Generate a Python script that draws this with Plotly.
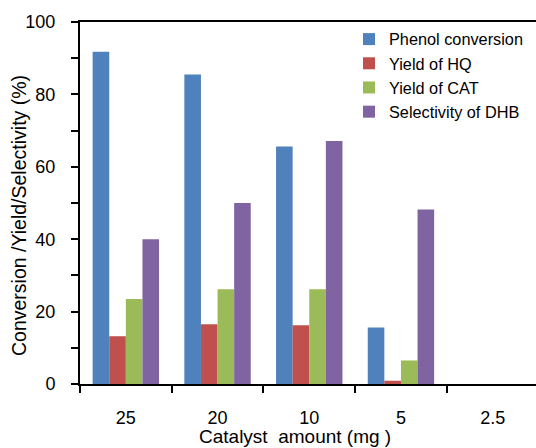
import plotly.graph_objects as go

categories = ["25", "20", "10", "5", "2.5"]
series_names = ["Phenol conversion", "Yield of HQ", "Yield of CAT", "Selectivity of DHB"]
phenol_conversion = [91.8, 85.5, 65.6, 15.6, 0]
yield_hq = [13.2, 16.5, 16.2, 0.9, 0]
yield_cat = [23.5, 26.2, 26.2, 6.5, 0]
selectivity_dhb = [40.0, 50.0, 67.1, 48.2, 0]
series_values = [phenol_conversion, yield_hq, yield_cat, selectivity_dhb]
colors = ["#4F81BD", "#C0504D", "#9BBB59", "#8064A2"]
y_tick_vals = [0, 20, 40, 60, 80, 100]
y_tick_text = ["0", "20", "40", "60", "80", "100"]

FONT = "Liberation Sans, Arial, sans-serif"

fig = go.Figure()
for name, vals, col in zip(series_names, series_values, colors):
    fig.add_trace(go.Bar(x=categories, y=vals, name=name,
                         marker=dict(color=col, line=dict(width=0))))

W, H = 536, 448
L, R, T, B = 80, 0, 22, 64
pw, ph = W - L - R, H - T - B

def px_x(p):
    return (p - L) / pw

def px_y(p):
    return 1 - (p - T) / ph

cat_w = 91.7
fig.update_layout(
    width=W, height=H,
    margin=dict(l=L, r=R, t=T, b=B, pad=0),
    paper_bgcolor="white", plot_bgcolor="white",
    font=dict(family=FONT, color="black", size=18),
    barmode="group", bargap=0.276, bargroupgap=0,
    showlegend=True,
    legend=dict(x=px_x(349), y=px_y(22), xanchor="left", yanchor="top",
                font=dict(size=16.3, family=FONT, color="black"),
                bgcolor="rgba(0,0,0,0)", borderwidth=0,
                itemclick=False, tracegroupgap=0),
    xaxis=dict(type="category", range=[-0.5, -0.5 + pw / cat_w],
               showline=True, linecolor="black", linewidth=2, mirror=True,
               ticks="outside", tickson="boundaries", ticklen=7, tickwidth=2,
               tickcolor="black", showgrid=False, zeroline=False,
               tickfont=dict(size=18), ticklabelstandoff=16),
    yaxis=dict(range=[0, 100], showline=True, linecolor="black", linewidth=2,
               ticks="outside", ticklen=7, tickwidth=2, tickcolor="black",
               tickvals=y_tick_vals, ticktext=y_tick_text,
               minor=dict(tickvals=[10, 30, 50, 70, 90], ticks="outside",
                          ticklen=7, tickwidth=2, tickcolor="black", showgrid=False),
               showgrid=False, zeroline=False, tickfont=dict(size=18),
               ticklabelstandoff=12),
    annotations=[
        dict(text="Catalyst  amount (mg )", xref="paper", yref="paper",
             x=px_x(295), y=px_y(436), xanchor="center", yanchor="middle",
             showarrow=False, font=dict(size=19, family=FONT)),
        dict(text="Conversion /Yield/Selectivity (%)", xref="paper", yref="paper",
             x=px_x(19), y=px_y(216), xanchor="center", yanchor="middle",
             textangle=-90, showarrow=False, font=dict(size=19.5, family=FONT)),
    ],
)

fig.write_html("out.html", config={"displayModeBar": False},
               post_script="document.body.style.margin='0';")
